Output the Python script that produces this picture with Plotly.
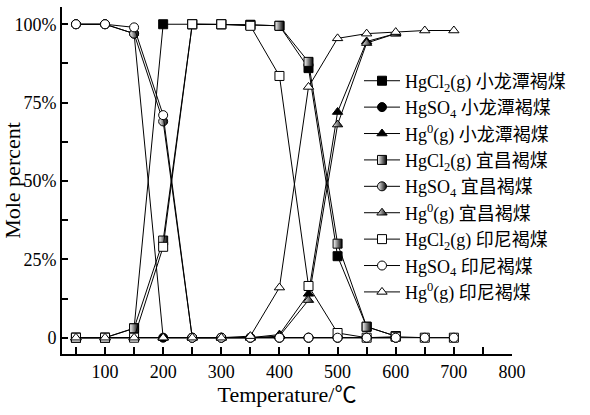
import plotly.graph_objects as go

# temperatures (°C)
temp_full = [50, 100, 150, 200, 250, 300, 350, 400, 450, 500, 550, 600, 650, 700]
temp_short = temp_full[:12]

# 小龙潭褐煤
hgcl2_xlt = [0, 0, 3, 100, 100, 100, 99.8, 99.5, 86, 26, 3.5, 0.5]
hgso4_xlt = [100, 100, 97, 0, 0, 0, 0, 0, 0, 0, 0, 0]
hg0_xlt = [0, 0, 0, 0, 0, 0, 0, 1, 14, 72, 94.5, 97]

# 宜昌褐煤
hgcl2_yc = [0, 0, 3, 31, 100, 100, 99.8, 99.5, 88, 30, 3.5, 0.5]
hgso4_yc = [100, 100, 97, 69, 0, 0, 0, 0, 0, 0, 0, 0]
hg0_yc = [0, 0, 0, 0, 0, 0, 0, 0.5, 12, 68, 94, 97]

# 印尼褐煤
hgcl2_yn = [0, 0, 0, 29, 100, 100, 99.5, 83.5, 16.5, 1.5, 0, 0.3, 0, 0]
hgso4_yn = [100, 100, 99, 71, 0, 0, 0, 0, 0, 0, 0, 0, 0, 0]
hg0_yn = [0, 0, 0, 0, 0, 0, 0.5, 16, 80, 95.5, 97, 97.5, 98, 98]

series = [
    ("HgCl<sub>2</sub>(g) 小龙潭褐煤", temp_short, hgcl2_xlt, "square", "filled"),
    ("HgSO<sub>4</sub> 小龙潭褐煤", temp_short, hgso4_xlt, "circle", "filled"),
    ("Hg<sup>0</sup>(g) 小龙潭褐煤", temp_short, hg0_xlt, "triangle-up", "filled"),
    ("HgCl<sub>2</sub>(g) 宜昌褐煤", temp_short, hgcl2_yc, "square", "half"),
    ("HgSO<sub>4</sub> 宜昌褐煤", temp_short, hgso4_yc, "circle", "half"),
    ("Hg<sup>0</sup>(g) 宜昌褐煤", temp_short, hg0_yc, "triangle-up", "half"),
    ("HgCl<sub>2</sub>(g) 印尼褐煤", temp_full, hgcl2_yn, "square", "open"),
    ("HgSO<sub>4</sub> 印尼褐煤", temp_full, hgso4_yn, "circle", "open"),
    ("Hg<sup>0</sup>(g) 印尼褐煤", temp_full, hg0_yn, "triangle-up", "open"),
]

fig = go.Figure()
for name, xs, ys, symbol, fill in series:
    marker = dict(symbol=symbol, size=9, line=dict(color="black", width=1))
    if fill == "filled":
        marker["color"] = "black"
    elif fill == "open":
        marker["color"] = "white"
    else:
        # no half-filled symbol in plotly; a gradient stands in for it
        marker["color"] = "white"
        marker["gradient"] = dict(type="horizontal", color="black")
    fig.add_trace(go.Scatter(
        x=xs, y=ys, name=name, mode="lines+markers",
        line=dict(color="black", width=1),
        marker=marker,
    ))

font = dict(family="Liberation Serif, Noto Sans CJK SC", size=18, color="black")

x_ticks = list(range(50, 801, 50))
y_ticks = [0, 12.5, 25, 37.5, 50, 62.5, 75, 87.5, 100]
y_labels = ["0", "", "25%", "", "50%", "", "75%", "", "100%"]

fig.update_layout(
    width=590, height=415,
    margin=dict(l=62, r=78, t=7, b=61),
    paper_bgcolor="white", plot_bgcolor="white",
    font=font,
    legend=dict(
        x=0.66, y=0.84, xanchor="left", yanchor="top",
        bgcolor="rgba(0,0,0,0)", font=font, tracegroupgap=0,
        itemwidth=36,
    ),
    xaxis=dict(
        range=[26, 800], tickvals=x_ticks,
        ticktext=[str(v) if v % 100 == 0 else "" for v in x_ticks],
        ticks="inside", ticklen=7, tickwidth=1.5, tickcolor="black",
        showline=True, linecolor="black", linewidth=2,
        showgrid=False, zeroline=False, automargin=False,
        title=dict(text="Temperature/℃", standoff=2),
    ),
    yaxis=dict(
        range=[-5.2, 105.5], tickvals=y_ticks, ticktext=y_labels,
        ticks="inside", ticklen=6, tickwidth=1.5, tickcolor="black",
        showline=True, linecolor="black", linewidth=2,
        showgrid=False, zeroline=False, automargin=False,
        title=dict(text="Mole percent", standoff=6),
    ),
)

# drop the page's default body margin so the figure sits at the window's corner
fig.write_html(
    "out.html",
    config={"displayModeBar": False},
    post_script="document.body.style.margin='0';",
)
